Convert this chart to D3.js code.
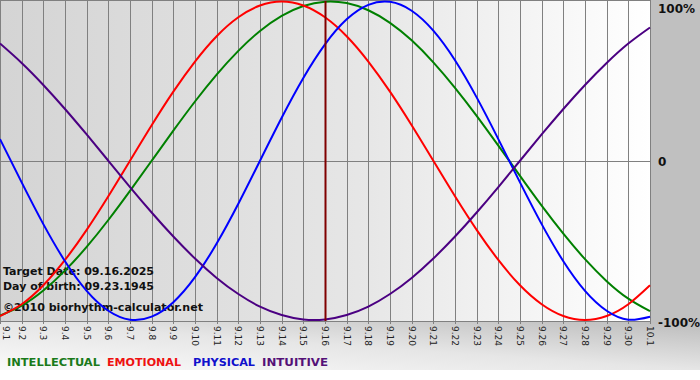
<!DOCTYPE html>
<html>
<head>
<meta charset="utf-8">
<script src="https://cdn.jsdelivr.net/npm/d3@7"></script>
<style>
  html, body { margin: 0; padding: 0; background: #ffffff; }
  svg { display: block; }
</style>
</head>
<body>
<div id="chart"></div>
<script>
// ---- data ----
const days = ["9.1","9.2","9.3","9.4","9.5","9.6","9.7","9.8","9.9","9.10","9.11","9.12","9.13","9.14","9.15","9.16","9.17","9.18","9.19","9.20","9.21","9.22","9.23","9.24","9.25","9.26","9.27","9.28","9.29","9.30","10.1"];
const physical = [0.136,-0.136,-0.398,-0.631,-0.817,-0.942,-0.998,-0.979,-0.888,-0.731,-0.520,-0.270,0,0.270,0.520,0.731,0.888,0.979,0.998,0.942,0.817,0.631,0.398,0.136,-0.136,-0.398,-0.631,-0.817,-0.942,-0.998,-0.979];
const emotional = [-0.975,-0.901,-0.782,-0.623,-0.434,-0.223,0,0.223,0.434,0.623,0.782,0.901,0.975,1,0.975,0.901,0.782,0.623,0.434,0.223,0,-0.223,-0.434,-0.623,-0.782,-0.901,-0.975,-1,-0.975,-0.901,-0.782];
const intellectual = [-0.972,-0.910,-0.815,-0.690,-0.541,-0.372,-0.189,0,0.189,0.372,0.541,0.690,0.815,0.910,0.972,0.999,0.990,0.945,0.866,0.756,0.618,0.458,0.282,0.095,-0.095,-0.282,-0.458,-0.618,-0.756,-0.866,-0.945];
const intuitive = [0.736,0.614,0.476,0.325,0.165,0,-0.165,-0.325,-0.476,-0.614,-0.736,-0.837,-0.916,-0.969,-0.997,-0.997,-0.969,-0.916,-0.837,-0.736,-0.614,-0.476,-0.325,-0.165,0,0.165,0.325,0.476,0.614,0.736,0.837];
const yTicks = [1, 0, -1];
const yTickLabels = ["100%", "0", "-100%"];
const targetDay = "9.16";
const infoLines = ["Target Date: 09.16.2025", "Day of birth: 09.23.1945", "\u00A92010 biorhythm-calculator.net"];
const legendNames = ["INTELLECTUAL", "EMOTIONAL", "PHYSICAL", "INTUITIVE"];

// ---- setup ----
const W = 700, H = 380;
const svg = d3.select("#chart").append("svg").attr("width", W).attr("height", H);
const defs = svg.append("defs");

const plotGrad = defs.append("linearGradient").attr("id", "plotGrad")
  .attr("x1", 0).attr("y1", 0).attr("x2", 1).attr("y2", 0);
plotGrad.append("stop").attr("offset", "0%").attr("stop-color", "#d4d4d4");
plotGrad.append("stop").attr("offset", "55%").attr("stop-color", "#e6e6e6");
plotGrad.append("stop").attr("offset", "100%").attr("stop-color", "#ffffff");

const stripGrad = defs.append("linearGradient").attr("id", "stripGrad")
  .attr("x1", 0).attr("y1", 1).attr("x2", 1).attr("y2", 0);
stripGrad.append("stop").attr("offset", "0%").attr("stop-color", "#fafafa");
stripGrad.append("stop").attr("offset", "50%").attr("stop-color", "#e6e6e6");
stripGrad.append("stop").attr("offset", "100%").attr("stop-color", "#bcbcbc");

const x = d3.scalePoint().domain(days).range([0, 650]);
const y = d3.scaleLinear().domain([-1, 1]).range([320, 1.5]);

// backgrounds
svg.append("rect").attr("x", 0).attr("y", 0).attr("width", W).attr("height", 322).attr("fill", "#c0c0c0");
svg.append("rect").attr("x", 0).attr("y", 322).attr("width", W).attr("height", 48).attr("fill", "url(#stripGrad)");
svg.append("rect").attr("x", 0).attr("y", 0).attr("width", 651).attr("height", 321).attr("fill", "url(#plotGrad)");

// grid
const grid = svg.append("g").attr("stroke", "#808080").attr("stroke-width", 1).attr("shape-rendering", "crispEdges");
grid.selectAll("line.v").data(days).join("line")
  .attr("x1", d => Math.round(x(d)) + 0.5).attr("x2", d => Math.round(x(d)) + 0.5)
  .attr("y1", 0).attr("y2", 324);
grid.append("line").attr("x1", 0).attr("x2", 651).attr("y1", 0.5).attr("y2", 0.5);
grid.append("line").attr("x1", 0).attr("x2", 651).attr("y1", Math.round(y(0)) + 0.5).attr("y2", Math.round(y(0)) + 0.5);
grid.append("line").attr("x1", 0).attr("x2", 651).attr("y1", 321.5).attr("y2", 321.5);

// x labels (rotated)
svg.append("g").selectAll("text").data(days).join("text")
  .attr("transform", d => `translate(${Math.max(3, x(d) - 3)},326) rotate(90)`)
  .attr("font-family", "DejaVu Sans, Verdana, sans-serif")
  .attr("font-size", 9)
  .attr("fill", "#222")
  .text(d => d);

// y labels
svg.append("g").selectAll("text").data(yTicks).join("text")
  .attr("x", 658)
  .attr("y", (d, i) => [13, 166, 327][i])
  .attr("font-family", "DejaVu Sans, Verdana, sans-serif")
  .attr("font-weight", "bold")
  .attr("font-size", 12)
  .attr("fill", "#111")
  .text((d, i) => yTickLabels[i]);

// info text
svg.append("g").selectAll("text").data(infoLines).join("text")
  .attr("x", 3)
  .attr("y", (d, i) => [275, 290, 311][i])
  .attr("font-family", "DejaVu Sans, Verdana, sans-serif")
  .attr("font-weight", "bold")
  .attr("font-size", 11)
  .attr("fill", "#111")
  .attr("textLength", (d, i) => [151, 151, 200][i])
  .attr("lengthAdjust", "spacingAndGlyphs")
  .text(d => d);

// curves
const series = [
  { name: "INTELLECTUAL", values: intellectual, color: "#008000" },
  { name: "EMOTIONAL", values: emotional, color: "#ff0000" },
  { name: "PHYSICAL", values: physical, color: "#0000ff" },
  { name: "INTUITIVE", values: intuitive, color: "#4b0082" }
];
const line = d3.line().x((d, i) => x(days[i])).y(d => y(d)).curve(d3.curveNatural);
const plot = svg.append("g");
plot.selectAll("path").data(series).join("path")
  .attr("d", d => line(d.values))
  .attr("fill", "none")
  .attr("stroke", d => d.color)
  .attr("stroke-width", 2);

// target day marker
svg.append("line")
  .attr("x1", x(targetDay) + 0.5).attr("x2", x(targetDay) + 0.5)
  .attr("y1", 1).attr("y2", 321)
  .attr("stroke", "#800000").attr("stroke-width", 2);

// legend
const legendColors = ["#1a7a1a", "#ee1111", "#1010cc", "#551177"];
const legendX = [7, 107, 193, 262];
const legendW = [93, 74, 62, 66];
svg.append("g").selectAll("text").data(legendNames).join("text")
  .attr("x", (d, i) => legendX[i])
  .attr("y", 366)
  .attr("font-family", "DejaVu Sans, Verdana, sans-serif")
  .attr("font-weight", "bold")
  .attr("font-size", 11)
  .attr("fill", (d, i) => legendColors[i])
  .attr("textLength", (d, i) => legendW[i])
  .attr("lengthAdjust", "spacingAndGlyphs")
  .text(d => d);
</script>
</body>
</html>
